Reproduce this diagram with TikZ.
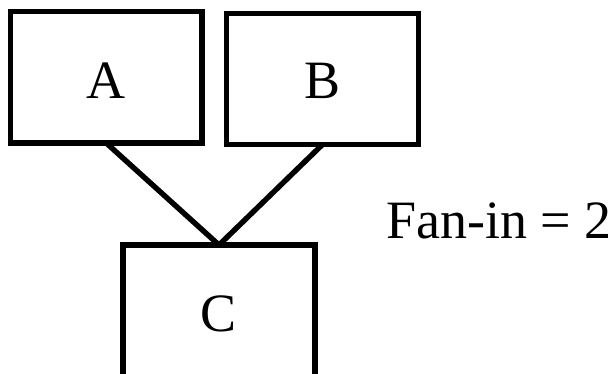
\documentclass[tikz,border=0pt]{standalone}
\usepackage{fontspec}
\setmainfont{Liberation Serif}
\begin{document}
\begin{tikzpicture}[x=1pt,y=-1pt,
  box/.style={draw=black,line width=5.4pt,rectangle,inner sep=0pt,outer sep=0pt,
    font=\fontsize{54}{60}\selectfont,text depth=0pt},
  conn/.style={draw=black,line width=5.4pt}]
\useasboundingbox (0,0) rectangle (611,373);
\clip (0,0) rectangle (611,373);
\fill[white] (0,0) rectangle (611,373);
\node[box,minimum width=191.5pt,minimum height=131.5pt,text height=42pt] (A) at (106.25,77.25) {A};
\node[box,minimum width=192pt,minimum height=131.2pt,text height=40pt] (B) at (322.5,78.9) {B};
\node[box,minimum width=191.7pt,minimum height=160pt,text height=36pt,text depth=24pt] (C) at (219,325) {C};
\draw[conn] (A.south) -- (C.north);
\draw[conn] (B.south) -- (C.north);
\node[anchor=base west,inner sep=0pt,font=\fontsize{54}{60}\selectfont] (F) at (386,238.3) {Fan-in = 2};
\end{tikzpicture}
\end{document}
